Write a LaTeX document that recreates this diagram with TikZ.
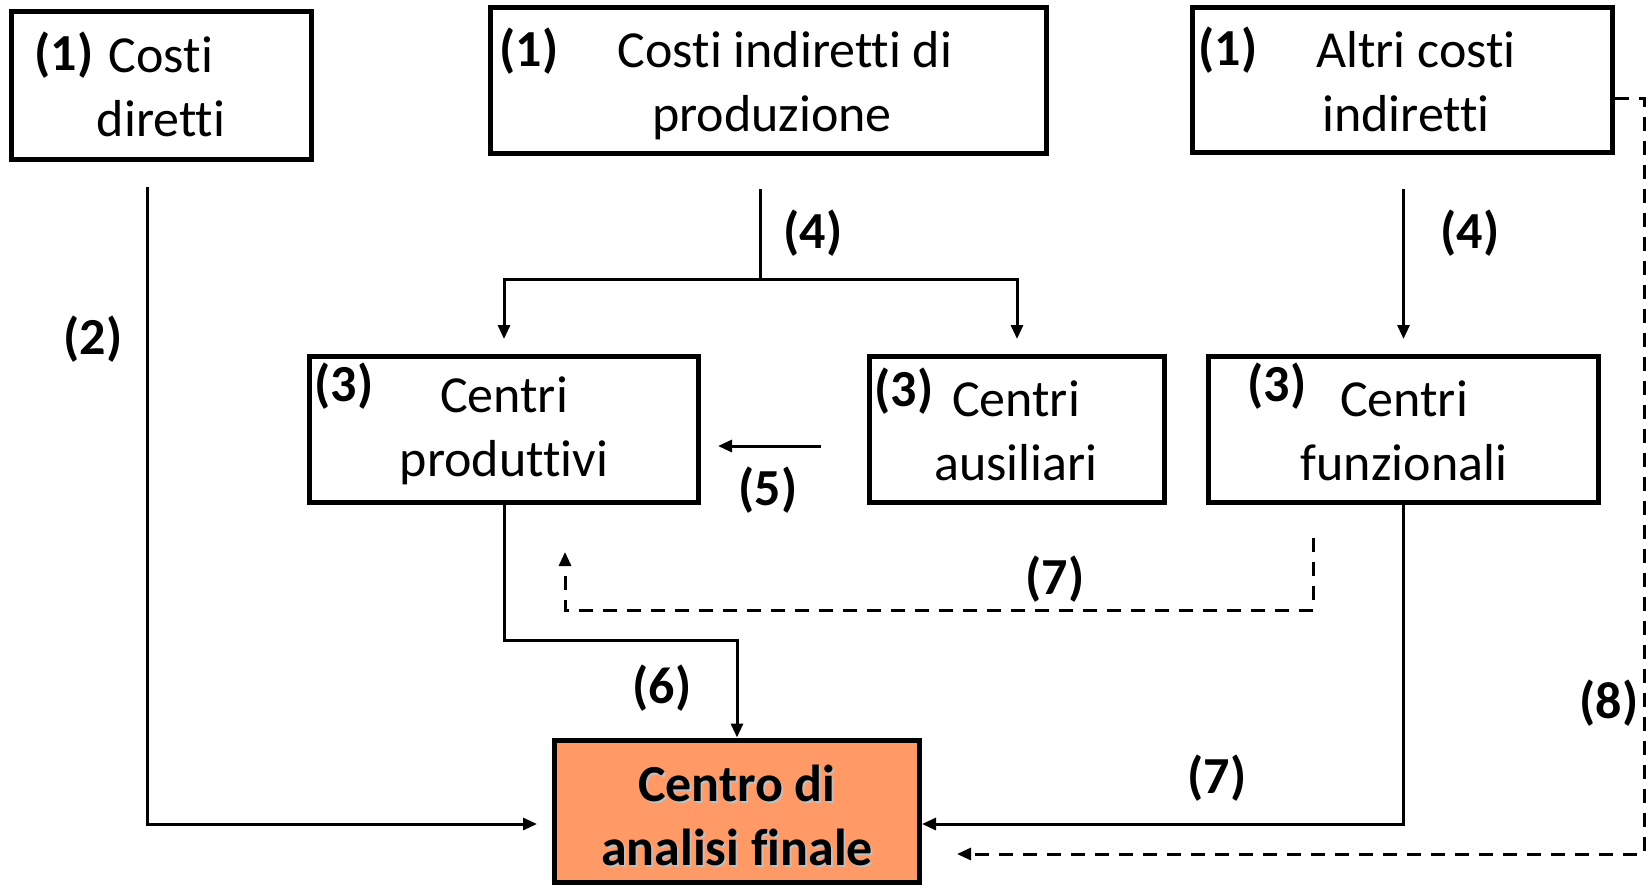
\documentclass[tikz,border=0pt]{standalone}
\usepackage{fontspec}
\setmainfont[Ligatures=NoCommon]{Carlito}
\usetikzlibrary{arrows.meta}
\definecolor{finalfill}{RGB}{255,153,102}
\begin{document}
\begin{tikzpicture}[x=1pt,y=-1pt,
  txt/.style={font=\fontsize{52}{64}\selectfont, align=center, inner sep=0pt},
  num/.style={font=\fontsize{52}{64}\selectfont\bfseries, inner sep=0pt},
  box/.style={draw, line width=5pt, inner sep=0pt},
  conn/.style={line width=3pt},
  arr/.style={conn, -{Triangle[length=14pt,width=12pt]}},
  dsh/.style={conn, dash pattern=on 14pt off 10pt}
]
\useasboundingbox (0,0) rectangle (1649,887);

% cost boxes
\node[box, minimum width=300pt, minimum height=148pt] (dir) at (161,85) {};
\node[box, minimum width=556pt, minimum height=146pt] (ind) at (768,80) {};
\node[box, minimum width=420pt, minimum height=145pt] (alt) at (1402.5,80) {};
% cost centres
\node[box, minimum width=389pt, minimum height=146pt] (prod) at (504,429.5) {};
\node[box, minimum width=295pt, minimum height=146pt] (aus) at (1017,429.5) {};
\node[box, minimum width=390pt, minimum height=146pt] (funz) at (1403.5,429.5) {};
% final analysis centre
\node[box, fill=finalfill, minimum width=365pt, minimum height=142pt] (fin) at (737,811) {};

% box texts
\node[txt] (tdir) at (161,87) {Costi\\diretti};
\node[txt] (tind) at (772,86) {\hspace*{26pt}Costi indiretti di\\produzione};
\node[txt] (talt) at (1406,82) {\hspace*{20pt}Altri costi\\indiretti};
\node[txt] (tprod) at (504,431) {Centri\\produttivi};
\node[txt] (taus) at (1016,431) {Centri\\ausiliari};
\node[txt] (tfunz) at (1404,431) {Centri\\funzionali};
\node[txt, font=\fontsize{52}{64}\selectfont\bfseries, text=black!25] (tfinsh) at (739,817) {Centro di\\analisi finale};
\node[txt, font=\fontsize{52}{64}\selectfont\bfseries] (tfin) at (737,815) {Centro di\\analisi finale};

% step numbers inside boxes
\node[num] (n1a) at (64,55) {(1)};
\node[num] (n1b) at (529,51) {(1)};
\node[num] (n1c) at (1228,50) {(1)};
\node[num] (n3a) at (344,386) {(3)};
\node[num] (n3b) at (904,391) {(3)};
\node[num] (n3c) at (1277,386) {(3)};

% free connector ends
\coordinate (c2s) at (147,187);
\coordinate (c2e) at (537,824);
\coordinate (c4s) at (760,189);
\coordinate (c4m) at (760,279);
\coordinate (c4r) at (1403.5,189);
\coordinate (d7s) at (1313,538);
\coordinate (d7c) at (1313,610);
\coordinate (d7e) at (565,552);
\coordinate (c6m) at (504,640);
\coordinate (d8c) at (1644,854);

% (2) direct costs
\draw[arr] (c2s) |- (c2e);
% (4) indirect production costs split
\draw[conn] (c4s) -- (c4m);
\draw[arr, shorten >=15pt] (c4m) -| (prod.north);
\draw[arr, shorten >=15pt] (c4m) -| (aus.north);
% (4) other indirect costs
\draw[arr, shorten >=15pt] (c4r) -- (funz.north);
% (5) auxiliary to productive
\draw[arr, shorten <=46pt, shorten >=17pt] ([yshift=-16.5pt]aus.west) -- ([yshift=-16.5pt]prod.east);
% (6) productive to final
\draw[arr] (prod.south) -- (c6m) -| (fin.north);
% (7) functional to productive (dashed)
\draw[dsh, -{Triangle[length=14pt,width=12pt]}] (d7s) -- (d7c) -| (d7e);
% (7) functional to final
\draw[arr] (funz.south) |- ([yshift=-13pt]fin.east);
% (8) other indirect costs to final (dashed)
\draw[dsh, -{Triangle[length=14pt,width=12pt]}, shorten >=35pt] ([yshift=-18pt]alt.east) -| (d8c) -- ([yshift=-43pt]fin.east);

% connector labels
\node[num] (l2) at (93,339) {(2)};
\node[num] (l4a) at (813,233) {(4)};
\node[num] (l4b) at (1470,233) {(4)};
\node[num] (l5) at (768,490) {(5)};
\node[num] (l6) at (662,688) {(6)};
\node[num] (l7a) at (1055,579) {(7)};
\node[num] (l7b) at (1217,778) {(7)};
\node[num] (l8) at (1609,703) {(8)};
\end{tikzpicture}
\end{document}
